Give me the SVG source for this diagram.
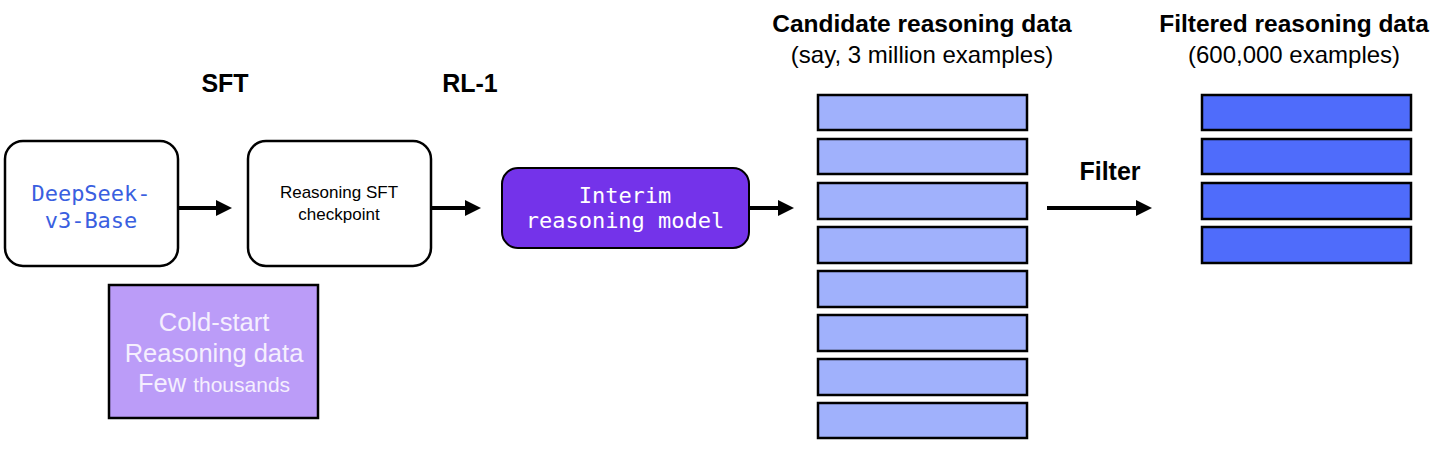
<svg xmlns="http://www.w3.org/2000/svg" width="1435" height="451" viewBox="0 0 1435 451">
<style>
.lbl{font-family:"Liberation Sans",Arial,sans-serif;fill:#000}
.wt{font-family:"Liberation Sans",Arial,sans-serif;fill:#f5effe}
.b{font-weight:bold}
.mono{font-family:"DejaVu Sans Mono","Liberation Mono",monospace}
.node{fill:#fff;stroke:#000;stroke-width:2.5}
.bar1{fill:#a0b1fc;stroke:#000;stroke-width:2.5}
.bar2{fill:#4f6cfb;stroke:#000;stroke-width:2.5}
.conn{stroke:#000;stroke-width:4;fill:none;marker-end:url(#ah)}
</style>
<defs>
<marker id="ah" markerWidth="4" markerHeight="4" refX="0.5" refY="2" orient="auto" markerUnits="strokeWidth">
<path d="M0,0 L4,2 L0,4 Z" fill="#000"/>
</marker>
</defs>
<rect width="1435" height="451" fill="#fff"/>
<text class="lbl b" x="225" y="92" font-size="25" text-anchor="middle">SFT</text>
<text class="lbl b" x="470" y="92" font-size="25" text-anchor="middle">RL-1</text>
<g id="n-base">
<rect class="node" x="5" y="141" width="173" height="125" rx="18"/>
<text class="mono" x="91" y="201" font-size="22" fill="#3a5fe0" text-anchor="middle">DeepSeek-</text>
<text class="mono" x="91" y="228" font-size="22" fill="#3a5fe0" text-anchor="middle">v3-Base</text>
</g>
<g id="n-sft">
<rect class="node" x="248" y="141" width="183" height="125" rx="18"/>
<text class="lbl" x="339" y="198" font-size="17" text-anchor="middle">Reasoning SFT</text>
<text class="lbl" x="339" y="220" font-size="17" text-anchor="middle">checkpoint</text>
</g>
<g id="n-interim">
<rect x="502" y="168" width="247" height="80" rx="16" fill="#7433ea" stroke="#000" stroke-width="2"/>
<text class="mono" x="625" y="203" font-size="22" fill="#fff" text-anchor="middle">Interim</text>
<text class="mono" x="625" y="228" font-size="22" fill="#fff" text-anchor="middle">reasoning model</text>
</g>
<g id="n-cold">
<rect x="109" y="285" width="209" height="133" fill="#bb9cf8" stroke="#000" stroke-width="2.5"/>
<text class="wt" x="214" y="331" font-size="25.5" text-anchor="middle">Cold-start</text>
<text class="wt" x="214" y="362" font-size="25.5" text-anchor="middle">Reasoning data</text>
<text class="wt" x="214" y="392" font-size="25.5" text-anchor="middle">Few <tspan font-size="21">thousands</tspan></text>
</g>
<g id="n-candidate">
<text class="lbl b" x="922" y="32" font-size="24.5" text-anchor="middle">Candidate reasoning data</text>
<text class="lbl" x="922" y="63" font-size="24" text-anchor="middle">(say, 3 million examples)</text>
<rect class="bar1" x="818" y="95" width="209" height="35"/>
<rect class="bar1" x="818" y="139" width="209" height="35"/>
<rect class="bar1" x="818" y="183" width="209" height="36"/>
<rect class="bar1" x="818" y="227" width="209" height="36"/>
<rect class="bar1" x="818" y="271" width="209" height="36"/>
<rect class="bar1" x="818" y="315" width="209" height="36"/>
<rect class="bar1" x="818" y="359" width="209" height="36"/>
<rect class="bar1" x="818" y="403" width="209" height="35"/>
</g>
<g id="n-filtered">
<text class="lbl b" x="1294" y="32" font-size="24.5" text-anchor="middle">Filtered reasoning data</text>
<text class="lbl" x="1294" y="63" font-size="24" text-anchor="middle">(600,000 examples)</text>
<rect class="bar2" x="1202" y="95" width="209" height="35"/>
<rect class="bar2" x="1202" y="139" width="209" height="35"/>
<rect class="bar2" x="1202" y="183" width="209" height="36"/>
<rect class="bar2" x="1202" y="227" width="209" height="36"/>
</g>
<g id="connectors">
<line class="conn" x1="178" y1="208" x2="218" y2="208"/>
<line class="conn" x1="431" y1="208" x2="467" y2="208"/>
<line class="conn" x1="749" y1="208" x2="780" y2="208"/>
<line class="conn" x1="1047" y1="208" x2="1138" y2="208"/>
<text class="lbl b" x="1110" y="180" font-size="25" text-anchor="middle">Filter</text>
</g>
</svg>
